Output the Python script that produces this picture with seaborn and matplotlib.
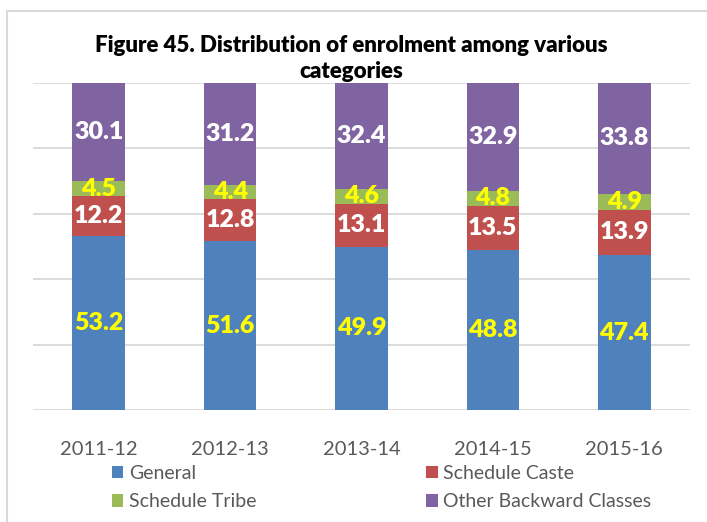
import matplotlib
matplotlib.use("Agg")
import matplotlib.pyplot as plt
from matplotlib.patches import Rectangle, Patch
import seaborn as sns
import pandas as pd
import numpy as np

# Enrolment share (%) by social category
years = ["2011-12", "2012-13", "2013-14", "2014-15", "2015-16"]
general = [53.2, 51.6, 49.9, 48.8, 47.4]
schedule_caste = [12.2, 12.8, 13.1, 13.5, 13.9]
schedule_tribe = [4.5, 4.4, 4.6, 4.8, 4.9]
other_backward = [30.1, 31.2, 32.4, 32.9, 33.8]

series_names = ["General", "Schedule Caste", "Schedule Tribe", "Other Backward Classes"]
series_values = [general, schedule_caste, schedule_tribe, other_backward]
series_colors = ["#4F81BD", "#C0504D", "#9BBB59", "#8064A2"]
label_colors = ["#FFFF00", "#FFFFFF", "#FFFF00", "#FFFFFF"]

sns.set_theme(style="white")
plt.rcParams["font.family"] = ["Lato", "DejaVu Sans"]

fig = plt.figure(figsize=(7.07, 5.22), dpi=100)
ax = fig.add_axes([33 / 707, 1 - 410 / 522, (690 - 33) / 707, (410 - 83) / 522])

# Long table with the cumulative top of every segment
rows = []
for name, vals in zip(series_names, series_values):
    for y, v in zip(years, vals):
        rows.append({"year": y, "series": name, "value": v})
df = pd.DataFrame(rows)
df["top"] = df.groupby("year", sort=False)["value"].cumsum()
df["bottom"] = df["top"] - df["value"]

# Draw stacked bars from the tallest cumulative layer down
for name, color in reversed(list(zip(series_names, series_colors))):
    sub = df[df["series"] == name]
    sns.barplot(data=sub, x="year", y="top", order=years, color=color,
                width=0.4, saturation=1, linewidth=0, ax=ax, zorder=2)

# Segment value labels
for name, lc in zip(series_names, label_colors):
    sub = df[df["series"] == name]
    for i, y in enumerate(years):
        r = sub[sub["year"] == y].iloc[0]
        ax.text(i, r["bottom"] + r["value"] / 2, f"{r['value']:.1f}",
                ha="center", va="center", color=lc, fontsize=18,
                fontweight="heavy", zorder=3)

ax.set_ylim(0, 100)
ax.set_xlim(-0.5, len(years) - 0.5)
ax.set_yticks(np.arange(0, 101, 20))
ax.yaxis.grid(True, color="#D9D9D9", linewidth=1.3, zorder=0)
ax.set_axisbelow(True)
ax.tick_params(axis="y", left=False, labelleft=False)
ax.tick_params(axis="x", bottom=False, labelsize=14.5, labelcolor="#595959", pad=16)
ax.set_xlabel("")
ax.set_ylabel("")
for s in ax.spines.values():
    s.set_visible(False)

fig.text(351 / 707, 1 - 45 / 522, "Figure 45. Distribution of enrolment among various",
         ha="center", va="center", fontsize=16, fontweight="heavy", color="#000000")
fig.text(351 / 707, 1 - 71 / 522, "categories",
         ha="center", va="center", fontsize=16, fontweight="heavy", color="#000000")

# Legend: two columns, column-major fill
order = [0, 2, 1, 3]
handles = [Patch(facecolor=series_colors[k], edgecolor="none") for k in order]
labels = [series_names[k] for k in order]
fig.legend(handles, labels, ncol=2, loc="upper left",
           bbox_to_anchor=(104 / 707, 1 - 457 / 522), frameon=False,
           fontsize=14, labelcolor="#595959", handlelength=0.6,
           handleheight=0.6, handletextpad=0.3, columnspacing=8.7,
           labelspacing=0.6, borderaxespad=0)

# Chart border
fig.patches.append(Rectangle((7 / 707, -0.1), 1.0, 1 - 11 / 522 + 0.1,
                             transform=fig.transFigure, fill=False,
                             edgecolor="#D9D9D9", linewidth=1.5))

fig.savefig("out.png", dpi=100)
